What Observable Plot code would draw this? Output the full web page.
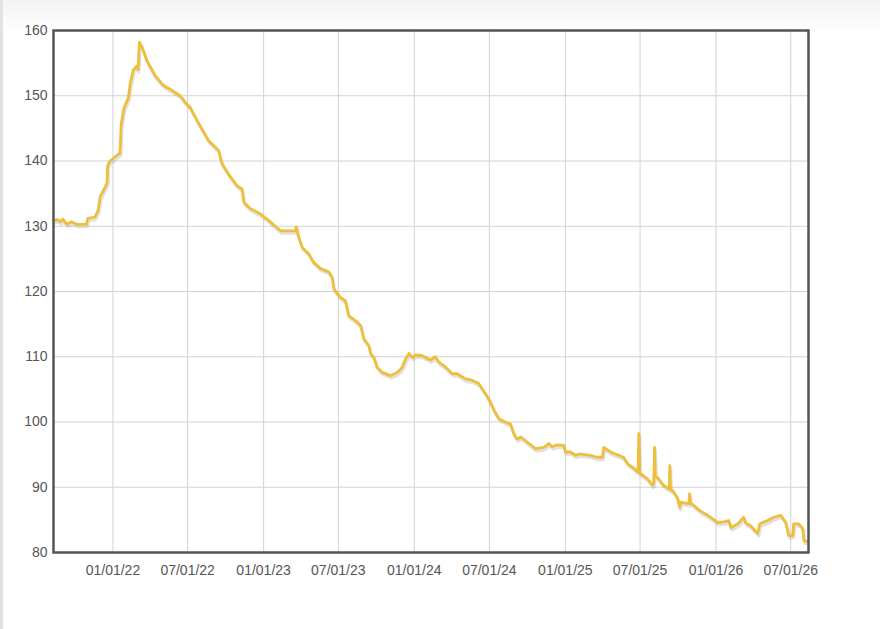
<!DOCTYPE html>
<html>
<head>
<meta charset="utf-8">
<script src="https://cdn.jsdelivr.net/npm/d3@7"></script>
<script src="https://cdn.jsdelivr.net/npm/@observablehq/plot@0.6"></script>
<style>
  html, body { margin: 0; padding: 0; }
  body {
    width: 880px; height: 629px; overflow: hidden; position: relative;
    background: linear-gradient(to bottom, #f3f3f3 0px, #fbfbfb 22px, #ffffff 34px);
    font-family: "Liberation Sans", Arial, sans-serif;
  }
  #edge { position: absolute; left: 0; top: 0; width: 3px; height: 629px; background: #e2e2e2; }
  #chart { position: absolute; left: 0; top: 0; }
</style>
</head>
<body>
<div id="edge"></div>
<div id="chart"></div>
<script>
const dates = [
  "2021-08-10","2021-08-20","2021-08-27","2021-09-02","2021-09-11","2021-09-23","2021-10-05","2021-10-29","2021-11-01","2021-11-18",
  "2021-11-26","2021-12-01","2021-12-13","2021-12-18","2021-12-19","2021-12-25","2022-01-13","2022-01-18","2022-01-21","2022-01-28",
  "2022-02-07","2022-02-12","2022-02-19","2022-03-01","2022-03-03","2022-03-06","2022-03-13","2022-03-24","2022-04-13","2022-05-03",
  "2022-05-24","2022-06-13","2022-06-25","2022-07-07","2022-07-24","2022-08-09","2022-08-21","2022-09-14","2022-09-22","2022-10-08",
  "2022-10-29","2022-11-10","2022-11-14","2022-11-30","2022-12-24","2023-01-13","2023-02-11","2023-03-19","2023-03-21","2023-03-27",
  "2023-04-04","2023-04-20","2023-05-02","2023-05-19","2023-06-08","2023-06-16","2023-06-20","2023-07-06","2023-07-18","2023-07-26",
  "2023-08-16","2023-08-24","2023-09-01","2023-09-13","2023-09-17","2023-09-25","2023-10-03","2023-10-15","2023-11-04","2023-11-21",
  "2023-12-03","2023-12-11","2023-12-19","2023-12-28","2024-01-04","2024-01-20","2024-01-28","2024-02-09","2024-02-21","2024-02-29",
  "2024-03-17","2024-04-02","2024-04-14","2024-05-04","2024-05-20","2024-06-05","2024-06-22","2024-07-04","2024-07-12","2024-07-24",
  "2024-08-09","2024-08-21","2024-08-29","2024-09-06","2024-09-15","2024-10-01","2024-10-21","2024-11-10","2024-11-22","2024-11-30",
  "2024-12-12","2024-12-28","2025-01-01","2025-01-13","2025-01-25","2025-02-06","2025-03-02","2025-03-19","2025-04-01","2025-04-04",
  "2025-04-21","2025-04-28","2025-05-22","2025-06-01","2025-06-16","2025-06-26","2025-06-28","2025-06-30","2025-07-02","2025-07-19",
  "2025-07-31","2025-08-03","2025-08-05","2025-08-07","2025-08-12","2025-08-27","2025-09-08","2025-09-10","2025-09-11","2025-09-13",
  "2025-09-18","2025-09-30","2025-10-05","2025-10-07","2025-10-27","2025-10-29","2025-10-31","2025-11-05","2025-11-25","2025-12-12",
  "2026-01-05","2026-01-20","2026-02-01","2026-02-06","2026-02-23","2026-03-09","2026-03-14","2026-03-26","2026-04-12","2026-04-17",
  "2026-05-06","2026-05-21","2026-06-07","2026-06-19","2026-06-26","2026-07-06","2026-07-08","2026-07-20","2026-07-30","2026-08-02",
  "2026-08-11"
];
const values = [
  130.9,131.0,130.7,131.1,130.3,130.7,130.3,130.3,131.2,131.4,
  132.4,134.5,136.0,136.7,139.3,140.0,141.0,141.2,145.7,148.2,
  149.6,151.9,153.9,154.6,154.0,158.2,157.4,155.4,153.1,151.6,
  150.8,150.0,149.0,148.2,146.2,144.4,143.1,141.6,139.6,138.0,
  136.2,135.7,133.7,132.7,131.9,130.9,129.3,129.3,129.9,128.3,
  126.8,125.8,124.5,123.5,123.0,122.2,120.4,119.1,118.6,116.3,
  115.3,114.8,112.7,111.7,110.5,109.9,108.4,107.6,107.1,107.6,
  108.4,109.7,110.5,109.9,110.3,110.2,109.9,109.5,110.0,109.2,
  108.4,107.4,107.4,106.6,106.4,105.9,104.3,103.0,101.8,100.5,
  100.0,99.7,98.2,97.4,97.7,96.9,95.9,96.1,96.7,96.2,
  96.5,96.4,95.4,95.4,94.9,95.1,94.9,94.6,94.6,96.1,
  95.4,95.2,94.6,93.6,92.9,92.3,98.2,92.3,92.1,91.3,
  90.3,90.5,96.1,91.6,91.5,90.3,89.8,89.9,93.3,89.6,
  89.5,88.3,86.9,87.7,87.5,89.0,87.5,87.4,86.3,85.7,
  84.6,84.7,84.9,83.8,84.4,85.4,84.5,84.1,82.9,84.4,
  84.9,85.4,85.7,84.6,82.6,82.6,84.4,84.4,83.7,81.8,
  81.7
];
const xTicks = ["2022-01-01","2022-07-01","2023-01-01","2023-07-01","2024-01-01","2024-07-01","2025-01-01","2025-07-01","2026-01-01","2026-07-01"];
const yTicks = [80, 90, 100, 110, 120, 130, 140, 150, 160];
const xDomain = ["2021-08-10", "2026-08-13"];

const parse = d3.utcParse("%Y-%m-%d");
const data = dates.map((d, i) => ({date: parse(d), value: values[i]}));

const chart = Plot.plot({
  width: 880,
  height: 629,
  marginLeft: 53,
  marginRight: 72,
  marginTop: 30,
  marginBottom: 77,
  style: {fontFamily: "'Liberation Sans', Arial, sans-serif", fontSize: "14px", color: "#555", background: "transparent"},
  x: {type: "utc", domain: xDomain.map(parse), ticks: xTicks.map(parse), tickFormat: d3.utcFormat("%m/%d/%y"), tickSize: 0, tickPadding: 13, label: null},
  y: {domain: [80, 160], ticks: yTicks, tickSize: 0, tickPadding: 6, label: null},
  marks: [
    Plot.gridX(xTicks.map(parse), {stroke: "#d2d2d2", strokeOpacity: 1, strokeWidth: 1}),
    Plot.gridY(yTicks, {stroke: "#d2d2d2", strokeOpacity: 1, strokeWidth: 1}),
    Plot.line(data, {x: "date", y: "value", stroke: "#9a9a9a", strokeOpacity: 0.3, strokeWidth: 3, dx: 1, dy: 2.5, strokeLinejoin: "round"}),
    Plot.line(data, {x: "date", y: "value", stroke: "#edbf3a", strokeWidth: 2.8, strokeLinejoin: "round"}),
    Plot.frame({stroke: "#555", strokeWidth: 2.5})
  ]
});
document.getElementById("chart").appendChild(chart);
</script>
</body>
</html>
